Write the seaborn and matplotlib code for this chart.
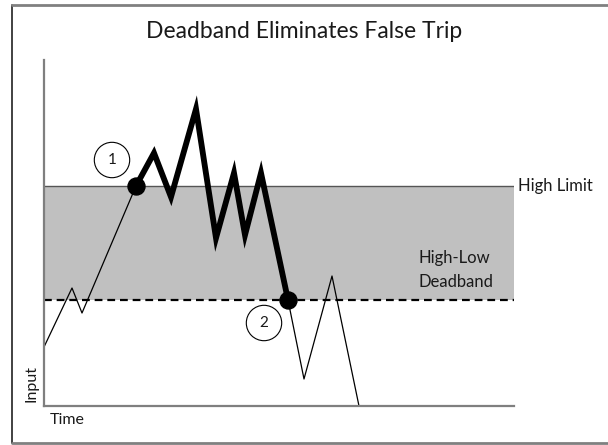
import matplotlib
matplotlib.use('Agg')
import matplotlib.pyplot as plt
import pandas as pd
import seaborn as sns
from matplotlib.lines import Line2D

# Valores (tiempo, entrada) en unidades arbitrarias
TIEMPO_SUBIDA = [0, 28, 38, 92]
ENTRADA_SUBIDA = [59, 118, 93, 220]

TIEMPO_DISPARO = [92, 110, 127, 152, 172, 190, 201, 217, 244]
ENTRADA_DISPARO = [220, 253, 209, 297, 168, 233, 171, 233, 106]

TIEMPO_BAJADA = [244, 260, 288, 315]
ENTRADA_BAJADA = [106, 27, 130, 0]

LIMITE_ALTO = 220
LIMITE_BANDA = 106
PUNTOS_T = [92, 244]
PUNTOS_E = [220, 106]
ETIQUETAS_PUNTOS = ['1', '2']

GRIS_EJE = '#7f7f7f'
FUENTE = ['Lato', 'DejaVu Sans']
COLOR_TEXTO = '#1a1a1a'


def main():
    sns.set_style('white')
    plt.rcParams['font.family'] = FUENTE

    fig = plt.figure(figsize=(6.08, 4.45), dpi=100)
    ax = fig.add_axes([44 / 608, 39 / 445, 470 / 608, 346 / 445])
    ax.set_xlim(0, 470)
    ax.set_ylim(0, 346)

    # banda muerta
    ax.axhspan(LIMITE_BANDA, LIMITE_ALTO, color='#c0c0c0', lw=0, zorder=0)
    ax.axhline(LIMITE_ALTO, color='#555555', lw=1.0, zorder=1)
    ax.axhline(LIMITE_BANDA, color='black', lw=1.6, ls=(0, (3.5, 2.2)), zorder=1)

    subida = pd.DataFrame({'t': TIEMPO_SUBIDA, 'e': ENTRADA_SUBIDA})
    disparo = pd.DataFrame({'t': TIEMPO_DISPARO, 'e': ENTRADA_DISPARO})
    bajada = pd.DataFrame({'t': TIEMPO_BAJADA, 'e': ENTRADA_BAJADA})

    sns.lineplot(data=subida, x='t', y='e', sort=False, color='black', lw=0.9, ax=ax, zorder=2)
    sns.lineplot(data=bajada, x='t', y='e', sort=False, color='black', lw=0.9, ax=ax, zorder=2)
    sns.lineplot(data=disparo, x='t', y='e', sort=False, color='black', lw=4.2,
                 ax=ax, zorder=3, solid_joinstyle='miter')
    sns.scatterplot(x=PUNTOS_T, y=PUNTOS_E, color='black', s=150, ax=ax, zorder=4,
                    edgecolor='black')

    # etiquetas en círculo
    offsets = [(-24, 26), (-24, -23)]
    for t, e, lab, (dx, dy) in zip(PUNTOS_T, PUNTOS_E, ETIQUETAS_PUNTOS, offsets):
        ax.text(t + dx, e + dy, lab, ha='center', va='center', fontsize=11,
                color=COLOR_TEXTO,
                bbox=dict(boxstyle='circle,pad=0.7', fc='white', ec='black', lw=0.8))

    ax.text(474, LIMITE_ALTO, 'High Limit', ha='left', va='center', fontsize=12,
            color=COLOR_TEXTO)
    ax.text(375, 148, 'High-Low', ha='left', va='center', fontsize=12, color=COLOR_TEXTO)
    ax.text(375, 124, 'Deadband', ha='left', va='center', fontsize=12, color=COLOR_TEXTO)

    ax.set_xticks([])
    ax.set_yticks([])
    ax.set_xlabel('')
    ax.set_ylabel('')
    for lado in ['top', 'right']:
        ax.spines[lado].set_visible(False)
    for lado in ['left', 'bottom']:
        ax.spines[lado].set_color(GRIS_EJE)
        ax.spines[lado].set_linewidth(1.6)

    ax.text(-12, 22, 'Input', rotation=90, ha='center', va='center', fontsize=11.5,
            color=COLOR_TEXTO, clip_on=False)
    ax.text(6, -14, 'Time', ha='left', va='center', fontsize=11.5, color=COLOR_TEXTO,
            clip_on=False)

    fig.text(304 / 608, 1 - 31 / 445, 'Deadband Eliminates False Trip', ha='center',
             va='center', fontsize=16.5, color=COLOR_TEXTO)

    # marco exterior
    fig.add_artist(Line2D([12 / 608, 12 / 608], [1 - 5 / 445, 1 - 443 / 445],
                          color='#333333', lw=1.3, transform=fig.transFigure))
    fig.add_artist(Line2D([12 / 608, 1], [1 - 5 / 445, 1 - 5 / 445],
                          color='#808080', lw=2.0, transform=fig.transFigure))
    fig.add_artist(Line2D([12 / 608, 1], [1 - 443 / 445, 1 - 443 / 445],
                          color='#808080', lw=2.0, transform=fig.transFigure))

    fig.savefig('out.png', dpi=100)
    plt.close(fig)


if __name__ == '__main__':
    main()
